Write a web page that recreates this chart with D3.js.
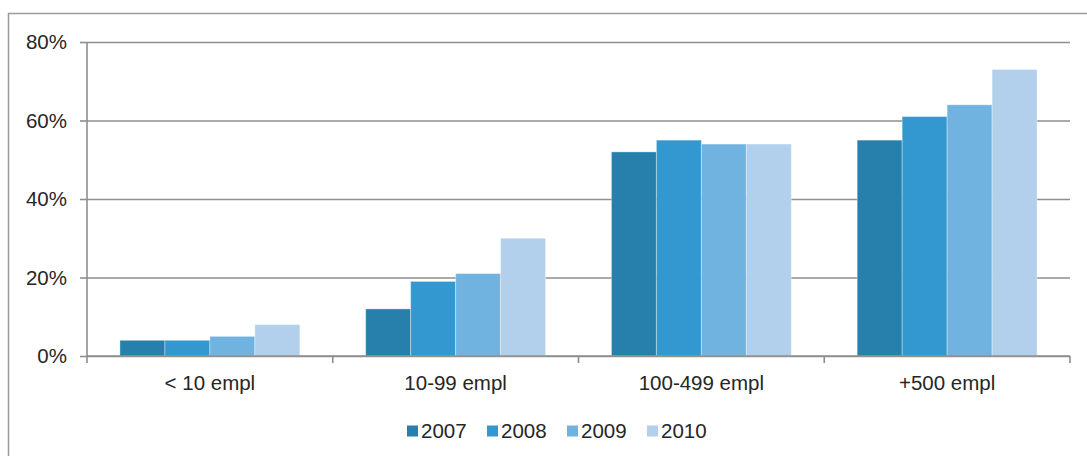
<!DOCTYPE html>
<html lang="en">
  <head>
    <meta charset="utf-8">
    <title>Employees by company size</title>
    <script src="https://cdn.jsdelivr.net/npm/d3@7/dist/d3.min.js"></script>
    <style>
      body { margin: 0; background: #fff; }
      text { font-family: "Liberation Sans", Arial, Helvetica, sans-serif; fill: #262626; }
    </style>
  </head>
  <body>
    <script>

      /* data */
      const categories = ["< 10 empl", "10-99 empl", "100-499 empl", "+500 empl"];
      const years = ["2007", "2008", "2009", "2010"];
      const v2007 = [4, 12, 52, 55];
      const v2008 = [4, 19, 55, 61];
      const v2009 = [5, 21, 54, 64];
      const v2010 = [8, 30, 54, 73];
      const yTicks = [0, 20, 40, 60, 80];
      const colors = ["#2780ab", "#3398d0", "#71b3e0", "#b2d0ec"];

      const series = [v2007, v2008, v2009, v2010];

      const WIDTH = 1087;
      const HEIGHT = 456;
      const PLOT_LEFT = 87;
      const PLOT_RIGHT = 1070;
      const PLOT_TOP = 42;
      const PLOT_BOTTOM = 356;
      const GRID_COLOR = "#8e8e8e";
      const FONT_SIZE = 20.5;

      let svg = d3.select("body").append("svg")
        .attr("width", WIDTH)
        .attr("height", HEIGHT);

      // outer frame
      svg.append("path")
        .attr("d", "M8.5," + HEIGHT + " V13.5 H" + WIDTH)
        .attr("fill", "none")
        .attr("stroke", "#9a9a9a")
        .attr("stroke-width", 1.5);

      let x0 = d3.scaleBand()
        .domain(categories)
        .range([PLOT_LEFT, PLOT_RIGHT])
        .paddingInner(0.268)
        .paddingOuter(0.134);

      let x1 = d3.scaleBand()
        .domain(years)
        .range([0, x0.bandwidth()]);

      let y = d3.scaleLinear()
        .domain([0, 80])
        .range([PLOT_BOTTOM, PLOT_TOP]);

      // gridlines + y axis
      let yAxis = d3.axisLeft(y)
        .tickValues(yTicks)
        .tickSize(-(PLOT_RIGHT - PLOT_LEFT))
        .tickFormat(d => d + "%");

      let gy = svg.append("g")
        .attr("transform", "translate(" + PLOT_LEFT + ",0)")
        .call(yAxis);
      gy.select(".domain").remove();
      gy.selectAll(".tick line")
        .attr("stroke", GRID_COLOR)
        .attr("stroke-width", 1.6);
      gy.selectAll(".tick").append("line")
        .attr("x1", -7).attr("x2", 0)
        .attr("stroke", GRID_COLOR)
        .attr("stroke-width", 1.6);
      gy.selectAll(".tick text")
        .attr("x", -20)
        .attr("font-size", FONT_SIZE)
        .style("fill", "#262626");

      // bars
      let groups = svg.append("g")
        .selectAll("g")
        .data(categories)
        .join("g")
        .attr("transform", d => "translate(" + x0(d) + ",0)");

      groups.selectAll("rect")
        .data((d, i) => years.map((yr, j) => ({ yr: yr, v: series[j][i], c: colors[j] })))
        .join("rect")
        .attr("x", d => x1(d.yr))
        .attr("y", d => y(d.v))
        .attr("width", x1.bandwidth())
        .attr("height", d => y(0) - y(d.v))
        .attr("fill", d => d.c)
        .attr("stroke", "rgba(255,255,255,0.35)")
        .attr("stroke-width", 1);

      // x axis
      let step = (PLOT_RIGHT - PLOT_LEFT) / categories.length;
      let xAxis = d3.axisBottom(x0).tickSize(0).tickPadding(19);
      let gx = svg.append("g")
        .attr("transform", "translate(0," + PLOT_BOTTOM + ")")
        .call(xAxis);
      gx.select(".domain").remove();
      gx.selectAll(".tick text")
        .attr("font-size", FONT_SIZE)
        .style("fill", "#262626");

      svg.append("line")
        .attr("x1", PLOT_LEFT).attr("x2", PLOT_RIGHT)
        .attr("y1", PLOT_BOTTOM).attr("y2", PLOT_BOTTOM)
        .attr("stroke", GRID_COLOR)
        .attr("stroke-width", 1.6);
      svg.append("line")
        .attr("x1", PLOT_LEFT).attr("x2", PLOT_LEFT)
        .attr("y1", PLOT_TOP).attr("y2", PLOT_BOTTOM + 7)
        .attr("stroke", GRID_COLOR)
        .attr("stroke-width", 1.6);
      svg.append("g")
        .selectAll("line")
        .data(d3.range(1, categories.length + 1))
        .join("line")
        .attr("x1", i => PLOT_LEFT + i * step)
        .attr("x2", i => PLOT_LEFT + i * step)
        .attr("y1", PLOT_BOTTOM)
        .attr("y2", PLOT_BOTTOM + 7)
        .attr("stroke", GRID_COLOR)
        .attr("stroke-width", 1.6);

      // legend
      let legend = svg.append("g")
        .attr("transform", "translate(407,431)");
      let items = legend.selectAll("g")
        .data(years)
        .join("g")
        .attr("transform", (d, i) => "translate(" + (i * 80) + ",0)");
      items.append("rect")
        .attr("x", 0).attr("y", -5.5)
        .attr("width", 11).attr("height", 11)
        .attr("fill", (d, i) => colors[i]);
      items.append("text")
        .attr("x", 14)
        .attr("dy", "0.35em")
        .attr("font-size", FONT_SIZE)
        .text(d => d);

    </script>
  </body>
</html>
